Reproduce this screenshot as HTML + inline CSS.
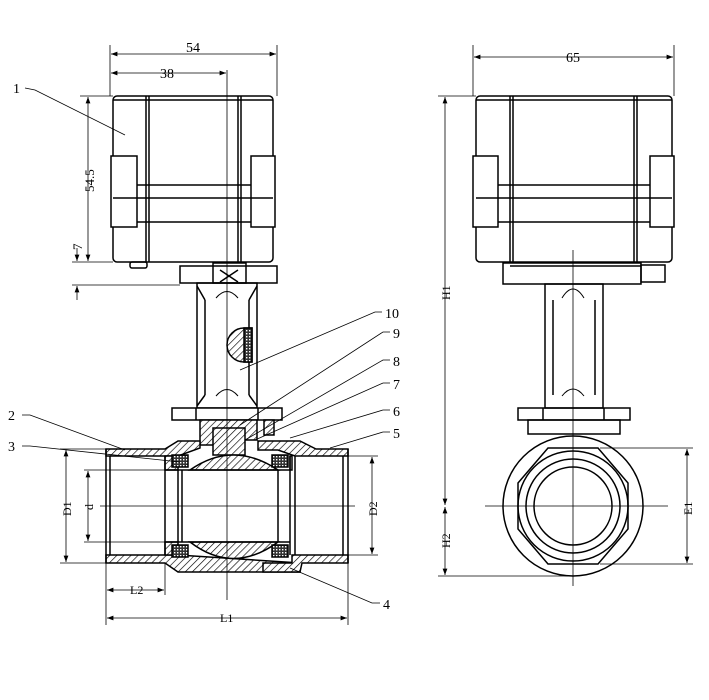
<!DOCTYPE html>
<html><head><meta charset="utf-8"><style>
html,body{margin:0;padding:0;background:#fff;}
svg{display:block;}
text{font-family:"Liberation Serif",serif;fill:#000;}
</style></head><body>
<svg width="709" height="700" viewBox="0 0 709 700" xmlns="http://www.w3.org/2000/svg">
<defs>
<pattern id="h" width="5" height="5" patternUnits="userSpaceOnUse" patternTransform="rotate(45)">
<rect width="5" height="5" fill="#fff"/><line x1="0" y1="0" x2="0" y2="5" stroke="#000" stroke-width="1.3"/></pattern>
<pattern id="x" width="3" height="3" patternUnits="userSpaceOnUse">
<rect width="3" height="3" fill="#333"/><rect width="1.4" height="1.4" fill="#fff"/></pattern>
<marker id="a" markerWidth="8" markerHeight="6" refX="8" refY="3" orient="auto"><path d="M0,0 L8,3 L0,6z" fill="#000"/></marker>
<marker id="b" markerWidth="8" markerHeight="6" refX="0" refY="3" orient="auto"><path d="M8,0 L0,3 L8,6z" fill="#000"/></marker>
</defs>
<g fill="none" stroke="#000" stroke-width="1.5">
<!-- LEFT ACTUATOR -->
<rect x="113" y="96" width="160" height="166" rx="4"/>
<line x1="146" y1="96" x2="146" y2="262"/><line x1="149" y1="96" x2="149" y2="262"/>
<line x1="238" y1="96" x2="238" y2="262"/><line x1="241" y1="96" x2="241" y2="262"/>
<line x1="113" y1="100" x2="273" y2="100"/>
<rect x="111" y="156" width="26" height="71" fill="#fff"/>
<rect x="251" y="156" width="24" height="71" fill="#fff"/>
<line x1="137" y1="185" x2="251" y2="185"/><line x1="113" y1="198" x2="273" y2="198"/><line x1="137" y1="222" x2="251" y2="222"/>
<rect x="130" y="262" width="17" height="6" rx="2"/>
<!-- bracket -->
<rect x="180" y="266" width="97" height="17"/>
<rect x="213" y="263" width="33" height="20"/>
<path d="M220,270 L238,282 M238,270 L220,282"/>
<!-- stem -->
<rect x="197" y="283" width="60" height="125"/>
<line x1="205" y1="300" x2="205" y2="395"/><line x1="249" y1="300" x2="249" y2="395"/>
<path d="M205,300 L197,286 M249,300 L257,286 M205,395 L197,406 M249,395 L257,406"/>
<path d="M216,298 Q227,285 238,298 M216,396 Q227,383 238,396" stroke-width="1"/>
<path d="M252,328 L252,362 L244,362 A17,17 0 0 1 244,328 Z" fill="url(#h)"/>
<rect x="244" y="328" width="8" height="34" fill="url(#x)"/>
<!-- flange -->
<rect x="172" y="408" width="110" height="12" fill="#fff"/>
<line x1="196" y1="408" x2="196" y2="420"/><line x1="258" y1="408" x2="258" y2="420"/>
<!-- packing / bonnet -->
<path d="M200,420 L257,420 L257,440 L237,440 L237,430 L218,430 L218,445 L200,445 Z" fill="url(#h)"/>
<rect x="264" y="420" width="10" height="15" fill="url(#h)"/>
<path d="M213,428 L245,428 L245,455 L213,455 Z" fill="url(#h)"/>
<!-- body -->
<path d="M106,449 L165,449 L178,441 L200,441 L200,448 L178,456 L106,456 Z" fill="url(#h)"/>
<path d="M106,563 L165,563 L178,572 L300,572 L300,563 L178,555 L106,555 Z" fill="url(#h)"/>
<path d="M258,441 L300,441 L316,449 L348,449 L348,456 L295,456 L278,450 L258,450 Z" fill="url(#h)"/>
<path d="M292,555 L348,555 L348,563 L302,563 L300,572 L263,572 L263,563 L292,563 Z" fill="url(#h)"/>
<path d="M165,456 L165,470 L178,470 L178,456 Z M165,542 L165,555 L178,555 L178,542 Z" fill="url(#h)"/>
<path d="M290,456 L290,470 L292,470 L292,456 Z"/>
<!-- ball -->
<path d="M190,470 Q233,440 278,470 Z" fill="url(#h)"/>
<path d="M190,542 Q233,575 278,542 Z" fill="url(#h)"/>
<rect x="172" y="455" width="16" height="12" fill="url(#x)"/>
<rect x="272" y="455" width="16" height="12" fill="url(#x)"/>
<rect x="172" y="545" width="16" height="12" fill="url(#x)"/>
<rect x="272" y="545" width="16" height="12" fill="url(#x)"/>
<line x1="106" y1="449" x2="106" y2="563"/><line x1="110" y1="456" x2="110" y2="555"/>
<line x1="165" y1="456" x2="165" y2="555"/>
<line x1="178" y1="470" x2="178" y2="542"/><line x1="182" y1="470" x2="182" y2="542"/>
<line x1="278" y1="470" x2="278" y2="542"/><line x1="290" y1="456" x2="290" y2="555"/>
<line x1="295" y1="456" x2="295" y2="555"/>
<line x1="343" y1="456" x2="343" y2="555"/><line x1="348" y1="449" x2="348" y2="563"/>
<line x1="165" y1="470" x2="290" y2="470"/><line x1="165" y1="542" x2="290" y2="542"/>
</g>
<g stroke="#000" stroke-width="0.8" fill="none">
<line x1="227" y1="70" x2="227" y2="600"/>
<line x1="100" y1="506" x2="355" y2="506"/>
<!-- dims left -->
<line x1="110" y1="45" x2="110" y2="96"/><line x1="277" y1="45" x2="277" y2="96"/>
<line x1="111" y1="54" x2="276" y2="54" marker-start="url(#b)" marker-end="url(#a)"/>
<line x1="111" y1="73" x2="226" y2="73" marker-start="url(#b)" marker-end="url(#a)"/>
<line x1="80" y1="96" x2="113" y2="96"/><line x1="72" y1="262" x2="113" y2="262"/><line x1="72" y1="285" x2="180" y2="285"/>
<line x1="88" y1="97" x2="88" y2="261" marker-start="url(#b)" marker-end="url(#a)"/>
<line x1="77" y1="248" x2="77" y2="261" marker-end="url(#a)"/>
<line x1="77" y1="300" x2="77" y2="286" marker-end="url(#a)"/>
<line x1="60" y1="449" x2="106" y2="449"/><line x1="60" y1="563" x2="106" y2="563"/>
<line x1="66" y1="450" x2="66" y2="562" marker-start="url(#b)" marker-end="url(#a)"/>
<line x1="84" y1="470" x2="165" y2="470"/><line x1="84" y1="542" x2="165" y2="542"/>
<line x1="88" y1="471" x2="88" y2="541" marker-start="url(#b)" marker-end="url(#a)"/>
<line x1="348" y1="456" x2="378" y2="456"/><line x1="348" y1="555" x2="378" y2="555"/>
<line x1="372" y1="457" x2="372" y2="554" marker-start="url(#b)" marker-end="url(#a)"/>
<line x1="106" y1="563" x2="106" y2="625"/><line x1="165" y1="563" x2="165" y2="595"/><line x1="348" y1="563" x2="348" y2="625"/>
<line x1="107" y1="590" x2="164" y2="590" marker-start="url(#b)" marker-end="url(#a)"/>
<line x1="107" y1="618" x2="347" y2="618" marker-start="url(#b)" marker-end="url(#a)"/>
<!-- leaders -->
<polyline points="25,88 35,90 125,135"/>
<polyline points="22,415 30,415 125,450"/>
<polyline points="22,446 30,446 180,462"/>
<polyline points="382,312 375,312 240,370"/>
<polyline points="390,332 383,332 240,425"/>
<polyline points="390,360 383,360 245,440"/>
<polyline points="390,383 383,383 255,440"/>
<polyline points="390,410 383,410 290,438"/>
<polyline points="390,432 383,432 330,448"/>
<polyline points="380,603 372,603 290,568"/>
</g>
<g font-size="14">
<text x="186" y="52">54</text>
<text x="160" y="78">38</text>
<text x="13" y="93">1</text>
<text x="8" y="420">2</text>
<text x="8" y="451">3</text>
<text x="385" y="318">10</text>
<text x="393" y="338">9</text>
<text x="393" y="366">8</text>
<text x="393" y="389">7</text>
<text x="393" y="416">6</text>
<text x="393" y="438">5</text>
<text x="383" y="609">4</text>
<text x="130" y="594" font-size="12">L2</text>
<text x="220" y="622" font-size="12">L1</text>
<text transform="translate(94,192) rotate(-90)" font-size="13">54.5</text>
<text transform="translate(82,250) rotate(-90)" font-size="13">7</text>
<text transform="translate(71,516) rotate(-90)" font-size="12">D1</text>
<text transform="translate(93,510) rotate(-90)" font-size="12">d</text>
<text transform="translate(377,516) rotate(-90)" font-size="12">D2</text>
<text x="566" y="62">65</text>
<text transform="translate(450,300) rotate(-90)" font-size="12">H1</text>
<text transform="translate(450,548) rotate(-90)" font-size="12">H2</text>
<text transform="translate(692,515) rotate(-90)" font-size="12">E1</text>
</g>
<!-- RIGHT VIEW -->
<g fill="none" stroke="#000" stroke-width="1.5">
<rect x="476" y="96" width="196" height="166" rx="4"/>
<line x1="476" y1="100" x2="672" y2="100"/>
<line x1="510" y1="96" x2="510" y2="262"/><line x1="513" y1="96" x2="513" y2="262"/>
<line x1="634" y1="96" x2="634" y2="262"/><line x1="637" y1="96" x2="637" y2="262"/>
<rect x="473" y="156" width="25" height="71" fill="#fff"/>
<rect x="650" y="156" width="24" height="71" fill="#fff"/>
<line x1="498" y1="185" x2="650" y2="185"/><line x1="476" y1="198" x2="672" y2="198"/><line x1="498" y1="222" x2="650" y2="222"/>
<rect x="503" y="263" width="138" height="21"/>
<rect x="641" y="265" width="24" height="17"/>
<line x1="510" y1="266" x2="641" y2="266"/>
<rect x="545" y="284" width="58" height="124"/>
<line x1="553" y1="300" x2="553" y2="395"/><line x1="595" y1="300" x2="595" y2="395"/>
<path d="M562,298 Q573,280 584,298 M562,396 Q573,382 584,396" stroke-width="1"/>
<rect x="518" y="408" width="112" height="12"/>
<line x1="543" y1="408" x2="543" y2="420"/><line x1="604" y1="408" x2="604" y2="420"/>
<rect x="528" y="420" width="92" height="14"/>
<circle cx="573" cy="506" r="70"/>
<polygon points="518,483 548,448 598,448 628,483 628,529 598,564 548,564 518,529"/>
<circle cx="573" cy="506" r="55"/>
<circle cx="573" cy="506" r="47"/>
<circle cx="573" cy="506" r="39"/>
</g>
<g stroke="#000" stroke-width="0.8" fill="none">
<line x1="573" y1="250" x2="573" y2="586"/>
<line x1="485" y1="506" x2="668" y2="506"/>
<line x1="473" y1="45" x2="473" y2="96"/><line x1="674" y1="45" x2="674" y2="96"/>
<line x1="474" y1="57" x2="673" y2="57" marker-start="url(#b)" marker-end="url(#a)"/>
<line x1="438" y1="96" x2="476" y2="96"/><line x1="438" y1="576" x2="573" y2="576"/>
<line x1="445" y1="97" x2="445" y2="505" marker-start="url(#b)" marker-end="url(#a)"/>
<line x1="445" y1="507" x2="445" y2="575" marker-start="url(#b)" marker-end="url(#a)"/>
<line x1="600" y1="448" x2="693" y2="448"/><line x1="600" y1="564" x2="693" y2="564"/>
<line x1="687" y1="449" x2="687" y2="563" marker-start="url(#b)" marker-end="url(#a)"/>
</g>
</svg>
</body></html>
